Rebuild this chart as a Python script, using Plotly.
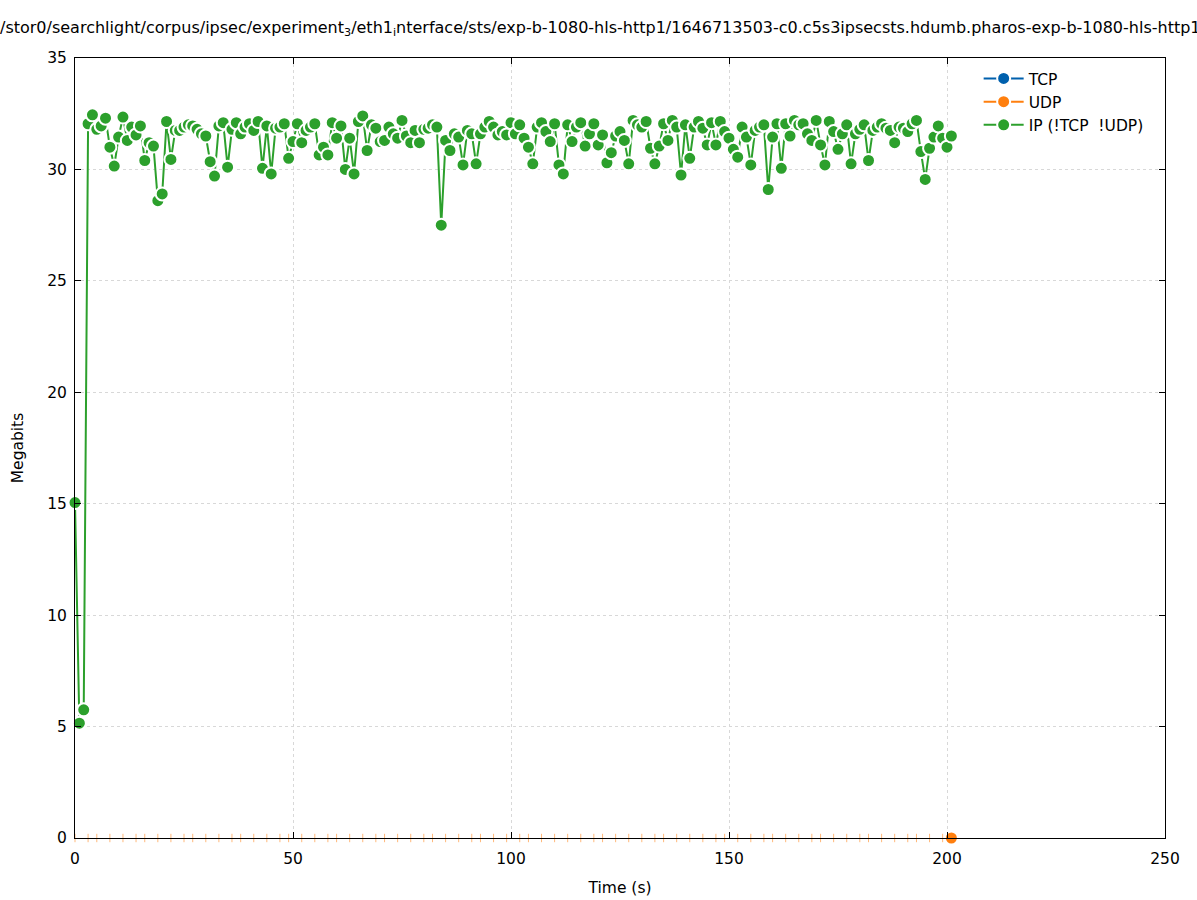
import plotly.graph_objects as go

# ---- data ----
ip_time = list(range(0, 202))
ip_mbits = [
    15.05, 5.15, 5.75, 32.05, 32.45, 31.8, 31.95, 32.3, 31.0, 30.15,
    31.45, 32.35, 31.3, 31.9, 31.55, 31.95, 30.4, 31.2, 31.05, 28.6,
    28.9, 32.15, 30.45, 31.75, 31.75, 31.9, 32.0, 31.95, 31.8, 31.6,
    31.5, 30.35, 29.7, 31.95, 32.1, 30.1, 31.8, 32.1, 31.6, 31.9,
    32.05, 31.75, 32.15, 30.05, 31.95, 29.8, 31.85, 31.9, 32.05, 30.5,
    31.25, 32.05, 31.2, 31.75, 31.9, 32.05, 30.65, 31.0, 30.65, 32.1,
    31.4, 31.95, 30.0, 31.4, 29.8, 32.15, 32.4, 30.85, 32.0, 31.85,
    31.25, 31.3, 31.9, 31.6, 31.4, 32.2, 31.5, 31.2, 31.75, 31.2,
    31.8, 31.85, 32.0, 31.9, 27.5, 31.3, 30.85, 31.6, 31.45, 30.2,
    31.75, 31.6, 30.25, 31.6, 31.9, 32.15, 31.9, 31.55, 31.7, 31.55,
    32.1, 31.6, 32.0, 31.4, 31.0, 30.25, 31.9, 32.1, 31.7, 31.25,
    32.05, 30.2, 29.8, 32.0, 31.25, 31.9, 32.1, 31.05, 31.6, 32.05,
    31.1, 31.55, 30.3, 30.75, 31.5, 31.7, 31.3, 30.25, 32.2, 32.0,
    31.9, 32.15, 30.95, 30.25, 31.05, 32.05, 31.3, 32.2, 31.9, 29.75,
    32.0, 30.5, 31.9, 32.15, 31.85, 31.1, 32.1, 31.1, 32.15, 31.7,
    31.4, 30.9, 30.55, 31.9, 31.45, 30.2, 31.75, 31.9, 32.0, 29.1,
    31.45, 32.05, 30.05, 32.05, 31.5, 32.2, 32.0, 32.05, 31.6, 31.3,
    32.2, 31.1, 30.2, 32.15, 31.7, 30.9, 31.6, 32.0, 30.25, 31.6,
    31.8, 32.0, 30.4, 31.75, 31.9, 32.05, 31.85, 31.75, 31.2, 31.9,
    31.85, 31.7, 32.05, 32.2, 30.8, 29.55, 30.95, 31.45, 31.95, 31.4,
    31.0, 31.5,
]

udp_time = [
    0, 3, 5, 8, 11, 14, 16, 19, 22, 25, 27, 30, 33, 36, 38, 41, 44, 47, 49,
    52, 55, 58, 60, 63, 66, 69, 71, 74, 77, 80, 82, 85, 88, 91, 93, 96, 99,
    102, 104, 107, 110, 113, 116, 119, 121, 124, 127, 130, 133, 135, 138,
    141, 144, 147, 149, 152, 155, 158, 160, 163, 166, 169, 171, 174, 177,
    180, 182, 185, 188, 191, 193, 196, 199, 201,
]
udp_mbits = [0] * len(udp_time)

tcp_time = [201]
tcp_mbits = [0]

series_names = ["TCP", "UDP", "IP (!TCP  !UDP)"]
x_ticks = [0, 50, 100, 150, 200, 250]
y_ticks = [0, 5, 10, 15, 20, 25, 30, 35]

title_text = ("/stor0/searchlight/corpus/ipsec/experiment<sub>3</sub>/eth1<sub>i</sub>nterface/sts/"
              "exp-b-1080-hls-http1/1646713503-c0.c5s3ipsecsts.hdumb.pharos-exp-b-1080-hls-http1")

BLUE = "#0060ad"
ORANGE = "#ff7f0e"
GREEN = "#2ca02c"
FONT = "DejaVu Sans"

fig = go.Figure()

fig.add_trace(go.Scatter(
    x=tcp_time, y=tcp_mbits, name=series_names[0], mode="lines+markers",
    line=dict(color=BLUE, width=2),
    marker=dict(symbol="circle", size=13, color=BLUE, line=dict(color="white", width=2)),
    cliponaxis=False,
))

# UDP sample ticks
fig.add_trace(go.Scatter(
    x=udp_time, y=udp_mbits, mode="markers", showlegend=False, legendgroup="udp",
    marker=dict(symbol="line-ns", size=6, line=dict(color="rgba(255,127,14,0.55)", width=1)),
    cliponaxis=False, hoverinfo="skip",
))
# UDP main
fig.add_trace(go.Scatter(
    x=udp_time[-1:], y=udp_mbits[-1:], name=series_names[1], mode="lines+markers",
    legendgroup="udp",
    line=dict(color=ORANGE, width=2),
    marker=dict(symbol="circle", size=13, color=ORANGE, line=dict(color="white", width=2)),
    cliponaxis=False,
))

fig.add_trace(go.Scatter(
    x=ip_time, y=ip_mbits, name=series_names[2], mode="lines+markers",
    line=dict(color=GREEN, width=2),
    marker=dict(symbol="circle", size=13, color=GREEN, line=dict(color="white", width=2)),
    cliponaxis=False,
))

axis_common = dict(
    showline=True, linecolor="black", linewidth=1, mirror="ticks",
    ticks="inside", ticklen=6, tickcolor="black", tickwidth=1,
    showgrid=True, gridcolor="#d8d8d8", griddash="dot", gridwidth=1,
    zeroline=False, tickfont=dict(family=FONT, size=15.5, color="black"),
    layer="above traces", automargin=False,
)

fig.update_layout(
    width=1197, height=900,
    paper_bgcolor="white", plot_bgcolor="white",
    margin=dict(l=75, r=32, t=58, b=62),
    font=dict(family=FONT, size=15.5, color="black"),
    title=dict(text=title_text, x=0, xref="container", xanchor="left",
               y=1 - 27 / 900, yref="container", yanchor="middle",
               font=dict(family=FONT, size=16, color="black")),
    xaxis=dict(range=[0, 250], tickvals=x_ticks, ticklabelstandoff=6,
               title=dict(text="Time (s)", standoff=15, font=dict(family=FONT, size=15.5)),
               **axis_common),
    yaxis=dict(range=[0, 35], tickvals=y_ticks, ticklabelstandoff=4,
               title=dict(text="Megabits", standoff=19, font=dict(family=FONT, size=15.5)),
               **axis_common),
    legend=dict(x=0.985, y=0.995, xanchor="right", yanchor="top",
                bgcolor="rgba(0,0,0,0)", borderwidth=0,
                font=dict(family=FONT, size=15.5, color="black"),
                tracegroupgap=0, itemwidth=40),
    showlegend=True,
)

fig.write_html("out.html", config={"displayModeBar": False},
               post_script="document.body.style.margin='0';")
